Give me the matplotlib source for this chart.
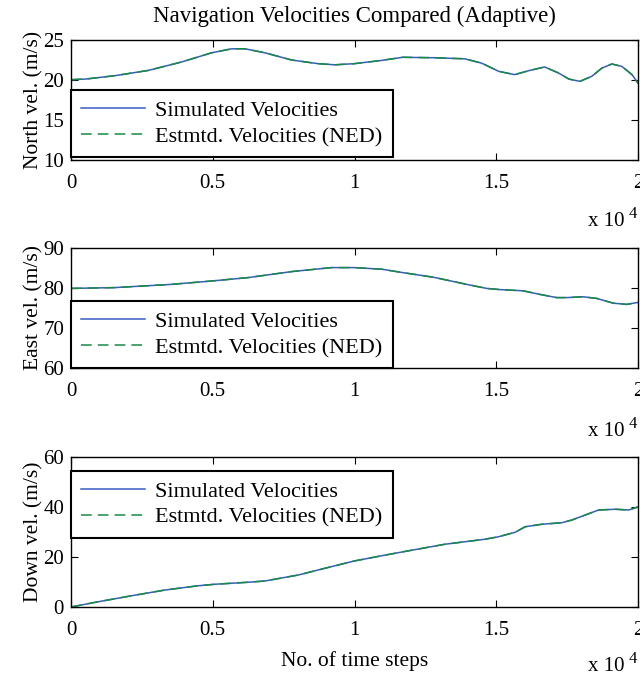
import numpy as np
import matplotlib
matplotlib.use('Agg')
import matplotlib.pyplot as plt

# valores (pasos de tiempo y velocidades en m/s)
x_north = [0, 520, 1550, 2730, 3900, 4960, 5670, 6140, 6840, 7780, 8720, 9310, 9990,
           10960, 11700, 12830, 13890, 14490, 15090, 15650, 16150, 16710, 17200, 17560,
           17950, 18370, 18730, 19080, 19430, 19790, 20000]
north = [20.04, 20.12, 20.54, 21.2, 22.25, 23.4, 23.9, 23.9, 23.4, 22.5, 22.04, 21.9, 22.04,
         22.45, 22.84, 22.78, 22.65, 22.1, 21.08, 20.67, 21.17, 21.63, 20.87, 20.12,
         19.83, 20.46, 21.5, 22.0, 21.7, 20.67, 19.6]

x_east = [0, 1550, 3530, 4960, 6250, 7780, 9190, 9990, 10960, 11700, 12780, 13960, 14660,
          15130, 15950, 16540, 17130, 17480, 18070, 18540, 19130, 19600, 20000]
east = [79.9, 80.1, 80.9, 81.75, 82.6, 84.1, 85.1, 85.1, 84.7, 83.85, 82.7, 80.9, 79.9,
        79.6, 79.3, 78.4, 77.6, 77.6, 77.8, 77.4, 76.2, 75.9, 76.4]

x_down = [0, 960, 2140, 3320, 4490, 5080, 6250, 6840, 8020, 8960, 9990, 10960, 11720,
          13190, 14600, 15080, 15670, 16020, 16610, 17310, 17670, 18140, 18610, 19200,
          19670, 20000]
down = [0.0, 2.1, 4.5, 6.8, 8.5, 9.1, 9.9, 10.4, 12.8, 15.5, 18.4, 20.5, 22.1,
        25.1, 27.1, 28.1, 29.9, 32.1, 33.1, 33.7, 34.8, 36.8, 38.8, 39.1,
        38.8, 40.0]

# las estimadas coinciden con las simuladas a la vista
est_north = list(north)
est_east = list(east)
est_down = list(down)

x_ticks = [0, 5000, 10000, 15000, 20000]
x_tick_labels = ['0', '0.5', '1', '1.5', '2']

plt.rcParams['font.family'] = ['Liberation Serif', 'DejaVu Serif']
plt.rcParams['font.size'] = 15

azul = '#3b5bc4'
verde = '#178a46'

fig = plt.figure(figsize=(6.4, 6.8), dpi=100)

W, H = 640.0, 680.0
left, right = 71, 638

def crear_eje(top, bottom):
    return fig.add_axes([left / W, (H - bottom) / H, (right - left) / W, (bottom - top) / H])

paneles = [
    (crear_eje(40, 160), x_north, north, est_north, 'North vel. (m/s)', (10, 25), [10, 15, 20, 25]),
    (crear_eje(248, 368), x_east, east, est_east, 'East vel. (m/s)', (60, 90), [60, 70, 80, 90]),
    (crear_eje(457, 607), x_down, down, est_down, 'Down vel. (m/s)', (0, 60), [0, 20, 40, 60]),
]

for ax, xs, sim, est, etiqueta, lims, yt in paneles:
    ax.plot(xs, sim, color=azul, lw=1.1, label='Simulated Velocities')
    ax.plot(xs, est, color=verde, lw=1.1, dashes=(7, 4), label='Estmtd. Velocities (NED)')
    ax.set_xlim(0, 20000)
    ax.set_ylim(*lims)
    ax.set_yticks(yt)
    ax.set_xticks(x_ticks)
    ax.set_xticklabels(x_tick_labels)
    ax.set_ylabel(etiqueta, labelpad=0, fontsize=15.5)
    ax.tick_params(direction='in', top=True, right=True, length=5, width=0.8)
    ax.tick_params(axis='x', pad=10)
    ax.tick_params(axis='y', pad=5)
    for s in ax.spines.values():
        s.set_linewidth(1.0)

ax1, ax2, ax3 = [p[0] for p in paneles]
ax1.set_title('Navigation Velocities Compared (Adaptive)', fontsize=16.5, pad=13)
ax3.set_xlabel('No. of time steps', labelpad=8, fontsize=15.5)

leyendas = [
    (ax1, 'lower left', (0.0, 0.025)),
    (ax2, 'lower left', (0.0, 0.0)),
    (ax3, 'upper left', (0.0, 0.907)),
]
for ax, loc, anc in leyendas:
    leg = ax.legend(loc=loc, bbox_to_anchor=anc, borderaxespad=0, fancybox=False,
                    edgecolor='black', framealpha=1, handlelength=2.9, handletextpad=0.45,
                    borderpad=0.45, labelspacing=0.25, fontsize=16)
    leg.get_frame().set_linewidth(1.5)

# etiqueta del multiplicador del eje x
for ybase in [226, 436, 671]:
    fig.text(588 / W, 1 - ybase / H, 'x 10', fontsize=15, va='baseline', ha='left')
    fig.text(629 / W, 1 - (ybase - 8) / H, '4', fontsize=12, va='baseline', ha='left')

fig.savefig('out.png', dpi=100)
